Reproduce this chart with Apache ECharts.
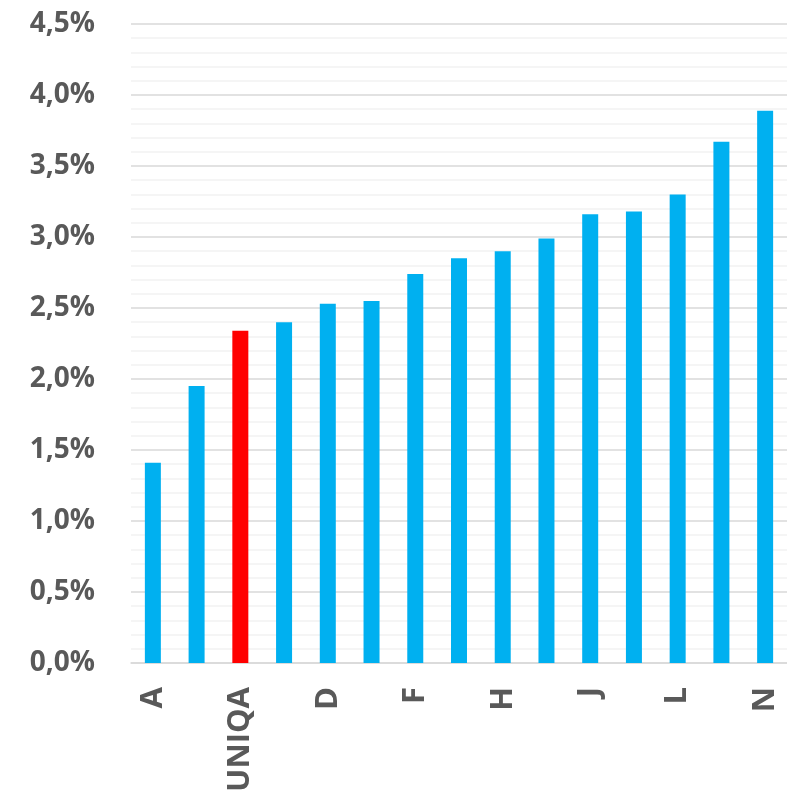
<!doctype html>
<html lang="de">
<head>
    <meta charset="UTF-8">
    <title>UNIQA Vergleich</title>
    <script type="text/javascript" src="https://cdn.jsdelivr.net/npm/echarts@6/dist/echarts.min.js"></script>
    <style>
        html, body { margin: 0; padding: 0; background: #fff; }
        #container { width: 787px; height: 795px; }
    </style>
</head>
<body>
<div id="container"></div>
<script type="text/javascript">

    // Kategorien und Werte (in Prozent)
    var categories = ['A', 'B', 'UNIQA', 'C', 'D', 'E', 'F', 'G', 'H', 'I', 'J', 'K', 'L', 'M', 'N'];
    var values = [1.41, 1.95, 2.34, 2.40, 2.53, 2.55, 2.74, 2.85, 2.90, 2.99, 3.16, 3.18, 3.30, 3.67, 3.89];
    var highlight = 'UNIQA';

    var dom = document.getElementById("container");
    var myChart = echarts.init(dom);

    var barData = [];
    for (var i = 0; i < values.length; i++) {
        barData.push({
            value: values[i],
            itemStyle: { color: categories[i] === highlight ? '#FF0000' : '#00B0F0' }
        });
    }

    var option = {
        animation: false,
        grid: {
            left: 131,
            right: 0,
            top: 24,
            bottom: 131
        },
        xAxis: {
            type: 'category',
            data: categories,
            axisLine: { lineStyle: { color: '#d9d9d9', width: 1.5 } },
            axisTick: { show: false },
            axisLabel: {
                interval: 1,
                rotate: 90,
                margin: 24,
                color: '#595959',
                fontFamily: 'Open Sans',
                fontWeight: 'bold',
                fontSize: 31
            }
        },
        yAxis: {
            type: 'value',
            min: 0,
            max: 4.5,
            interval: 0.5,
            axisLine: { show: false },
            axisTick: { show: false },
            minorTick: { show: false, splitNumber: 5 },
            splitLine: { lineStyle: { color: '#d9d9d9', width: 1.5 } },
            minorSplitLine: { show: true, lineStyle: { color: '#f2f2f2', width: 1.5 } },
            axisLabel: {
                margin: 36,
                color: '#595959',
                fontFamily: 'Open Sans',
                fontWeight: 'bold',
                fontSize: 28,
                formatter: function (v) {
                    return v.toFixed(1).replace('.', ',') + '%';
                }
            }
        },
        series: [{
            type: 'bar',
            data: barData,
            barWidth: 16
        }]
    };

    myChart.setOption(option, true);

</script>
</body>
</html>
